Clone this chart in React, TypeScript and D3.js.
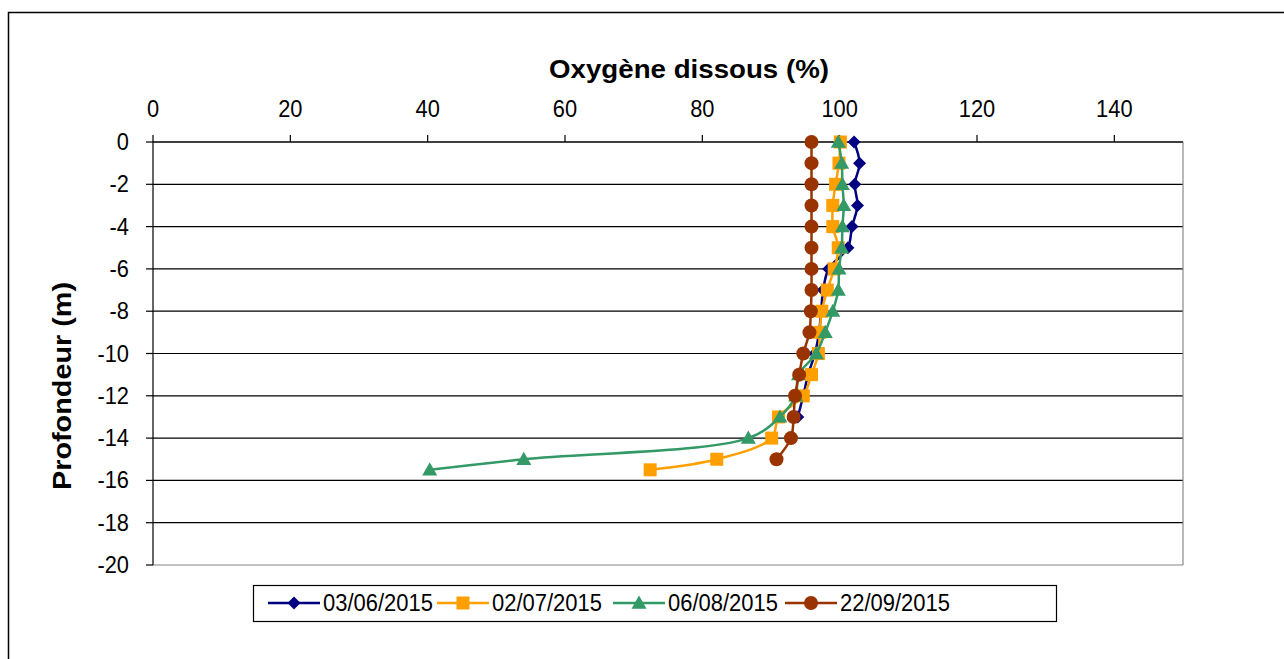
import React from "react";
import * as d3 from "d3";

const xTicks = [0, 20, 40, 60, 80, 100, 120, 140];
const yTicks = [0, -2, -4, -6, -8, -10, -12, -14, -16, -18, -20];

const depthsA = [0, -1, -2, -3, -4, -5, -6, -7, -8, -9, -10, -11, -12, -13];
const valuesA = [102.1, 102.9, 102.2, 102.6, 101.8, 101.2, 98.4, 97.6, 97.3, 97.0, 96.4, 95.4, 94.7, 93.9];

const depthsB = [0, -1, -2, -3, -4, -5, -6, -7, -8, -9, -10, -11, -12, -13, -14, -15, -15.5];
const valuesB = [100.1, 99.9, 99.4, 99.0, 99.0, 99.8, 99.2, 98.2, 97.4, 97.1, 96.9, 95.9, 94.7, 91.1, 90.1, 82.1, 72.4];

const depthsC = [0, -1, -2, -3, -4, -5, -6, -7, -8, -9, -10, -11, -12, -13, -14, -15, -15.5];
const valuesC = [99.8, 100.3, 100.4, 100.6, 100.4, 100.3, 99.9, 99.8, 99.0, 97.9, 96.6, 94.0, 93.6, 91.3, 86.7, 54.0, 40.3];

const depthsD = [0, -1, -2, -3, -4, -5, -6, -7, -8, -9, -10, -11, -12, -13, -14, -15];
const valuesD = [95.9, 95.9, 95.9, 95.9, 95.9, 95.9, 95.9, 95.9, 95.8, 95.6, 94.7, 94.1, 93.5, 93.3, 92.9, 90.8];

const seriesNames = ["03/06/2015", "02/07/2015", "06/08/2015", "22/09/2015"];
const seriesColors = ["#000080", "#FFA000", "#339966", "#993300"];
const seriesShapes = ["diamond", "square", "triangle", "circle"];

const FONT = "'Liberation Sans', Arial, sans-serif";

function Marker({ shape, x, y, color }: { shape: string; x: number; y: number; color: string }) {
  if (shape === "diamond") {
    const s = 6.5;
    return <path d={`M${x},${y - s} L${x + s},${y} L${x},${y + s} L${x - s},${y} Z`} fill={color} />;
  }
  if (shape === "square") {
    const s = 6.5;
    return <rect x={x - s} y={y - s} width={2 * s} height={2 * s} fill={color} />;
  }
  if (shape === "triangle") {
    const s = 7.5;
    return <path d={`M${x},${y - s} L${x + s},${y + s * 0.75} L${x - s},${y + s * 0.75} Z`} fill={color} />;
  }
  return <circle cx={x} cy={y} r={7} fill={color} />;
}

function Label({ x, y, anchor, size, children, sx = 0.95, bold = false }: any) {
  return (
    <g transform={`translate(${x},${y}) scale(${sx},1)`}>
      <text x={0} y={0} textAnchor={anchor} fontFamily={FONT} fontSize={size} fontWeight={bold ? "bold" : "normal"} fill="#000">
        {children}
      </text>
    </g>
  );
}

export default function App() {
  const width = 1284;
  const height = 659;
  const left = 153;
  const right = 1183;
  const top = 142;
  const bottom = 565;

  const x = d3.scaleLinear().domain([0, 150]).range([left, right]);
  const y = d3.scaleLinear().domain([0, -20]).range([top, bottom]);

  const data = [
    depthsA.map((d, i) => ({ d, v: valuesA[i] })),
    depthsB.map((d, i) => ({ d, v: valuesB[i] })),
    depthsC.map((d, i) => ({ d, v: valuesC[i] })),
    depthsD.map((d, i) => ({ d, v: valuesD[i] })),
  ];

  const line = d3
    .line<{ d: number; v: number }>()
    .x((p) => x(p.v))
    .y((p) => y(p.d))
    .curve(d3.curveCatmullRom.alpha(0.5));

  const legendX = [268, 437, 613, 785];

  return (
    <svg width={width} height={height} style={{ position: "absolute", left: 0, top: 0 }}>
      <rect x={0} y={0} width={width} height={height} fill="#fff" />
      <rect x={8.5} y={12.5} width={1290} height={670} fill="none" stroke="#000" strokeWidth={1.5} />

      {yTicks.map((t) => (
        <line key={"g" + t} x1={left} x2={right} y1={y(t)} y2={y(t)} stroke={t === -20 ? "#888" : "#000"} strokeWidth={1.2} />
      ))}
      <line x1={right} x2={right} y1={top} y2={bottom} stroke="#888" strokeWidth={1.2} />
      <line x1={left} x2={left} y1={top} y2={bottom} stroke="#000" strokeWidth={1.2} />
      {yTicks.map((t) => (
        <g key={"yt" + t}>
          <line x1={left - 7} x2={left} y1={y(t)} y2={y(t)} stroke="#000" strokeWidth={1.2} />
          <Label x={left - 24} y={y(t) + 8} anchor="end" size={23}>
            {t}
          </Label>
        </g>
      ))}
      <line x1={left} x2={right} y1={top} y2={top} stroke="#000" strokeWidth={1.2} />
      {xTicks.map((t) => (
        <g key={"xt" + t}>
          <line x1={x(t)} x2={x(t)} y1={top - 7} y2={top} stroke="#000" strokeWidth={1.2} />
          <Label x={x(t)} y={117} anchor="middle" size={23}>
            {t}
          </Label>
        </g>
      ))}

      <text x={689} y={78} textAnchor="middle" fontFamily={FONT} fontSize={26} fontWeight="bold" fill="#000" textLength={280} lengthAdjust="spacingAndGlyphs">
        Oxygène dissous (%)
      </text>
      <text
        transform={`translate(71,386) rotate(-90)`}
        textAnchor="middle"
        fontFamily={FONT}
        fontSize={26}
        fontWeight="bold"
        fill="#000"
        textLength={208}
        lengthAdjust="spacingAndGlyphs"
      >
        Profondeur (m)
      </text>

      {data.map((s, i) => (
        <g key={"s" + i}>
          <path d={line(s) || ""} fill="none" stroke={seriesColors[i]} strokeWidth={2.5} />
          {s.map((p, j) => (
            <Marker key={j} shape={seriesShapes[i]} x={x(p.v)} y={y(p.d)} color={seriesColors[i]} />
          ))}
        </g>
      ))}

      <rect x={253.5} y={585.5} width={803} height={36} fill="#fff" stroke="#000" strokeWidth={1.2} />
      {seriesNames.map((n, i) => (
        <g key={"l" + i}>
          <line x1={legendX[i]} x2={legendX[i] + 52} y1={603} y2={603} stroke={seriesColors[i]} strokeWidth={2.5} />
          <Marker shape={seriesShapes[i]} x={legendX[i] + 26} y={603} color={seriesColors[i]} />
          <text x={legendX[i] + 55} y={611} fontFamily={FONT} fontSize={23} fill="#000" textLength={110} lengthAdjust="spacingAndGlyphs">
            {n}
          </text>
        </g>
      ))}
    </svg>
  );
}
